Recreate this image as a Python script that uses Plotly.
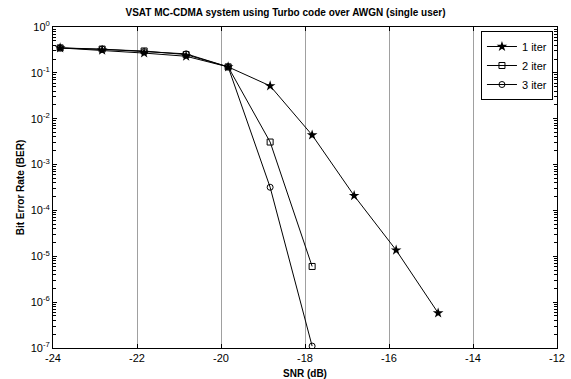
import plotly.graph_objects as go

snr = [-23.83, -22.83, -21.83, -20.83, -19.83, -18.83, -17.83, -16.83, -15.83, -14.83]
ber_1iter = [0.35, 0.31, 0.27, 0.23, 0.135, 0.052, 4.4e-3, 2.1e-4, 1.36e-5, 5.8e-7]
snr_23 = [-23.83, -22.83, -21.83, -20.83, -19.83, -18.83, -17.83]
ber_2iter = [0.35, 0.33, 0.30, 0.25, 0.135, 3.1e-3, 6.0e-6]
ber_3iter = [0.35, 0.33, 0.29, 0.26, 0.135, 3.2e-4, 1.1e-7]

x_ticks = [-24, -22, -20, -18, -16, -14, -12]
y_exps = [0, -1, -2, -3, -4, -5, -6, -7]
minor_vals = [k * 10.0 ** e for e in range(-7, 0) for k in range(2, 10)]

fig = go.Figure()
fig.add_trace(go.Scatter(x=snr, y=ber_1iter, mode="lines+markers", name="1 iter",
                         line=dict(color="black", width=1),
                         marker=dict(symbol="star", size=8, color="black")))
fig.add_trace(go.Scatter(x=snr_23, y=ber_2iter, mode="lines+markers", name="2 iter",
                         line=dict(color="black", width=1),
                         marker=dict(symbol="square-open", size=6, color="black", line=dict(width=1))))
fig.add_trace(go.Scatter(x=snr_23, y=ber_3iter, mode="lines+markers", name="3 iter",
                         line=dict(color="black", width=1),
                         marker=dict(symbol="circle-open", size=6, color="black", line=dict(width=1))))

fig.update_layout(
    width=571, height=379,
    margin=dict(l=53, r=14, t=27, b=31),
    paper_bgcolor="white", plot_bgcolor="white",
    font=dict(family="Liberation Sans, Arial", size=11, color="black"),
    title=dict(text="<b>VSAT MC-CDMA system using Turbo code over AWGN (single user)</b>",
               x=0.5, xanchor="center", y=0.975, yanchor="top", font=dict(size=10)),
    legend=dict(x=0.992, y=0.9875, xanchor="right", yanchor="top",
                bordercolor="black", borderwidth=1, bgcolor="white",
                font=dict(size=11), tracegroupgap=0, itemwidth=30),
    showlegend=True,
)
fig.update_xaxes(
    range=[-24, -12], tickvals=x_ticks, ticktext=[str(v) for v in x_ticks],
    showgrid=True, gridcolor="#a0a0a0", gridwidth=1,
    ticks="inside", ticklen=4, tickcolor="black",
    showline=True, linecolor="black", linewidth=1, mirror="ticks",
    zeroline=False, automargin=False,
    title=dict(text="<b>SNR (dB)</b>", font=dict(size=10), standoff=8),
)
fig.update_yaxes(
    type="log", range=[-7, 0],
    tickmode="array",
    tickvals=[10.0 ** e for e in y_exps],
    ticktext=["10<sup>%d</sup>" % e for e in y_exps],
    showgrid=False,
    ticks="inside", ticklen=4, tickcolor="black",
    minor=dict(ticks="inside", ticklen=3, tickmode="array", tickvals=minor_vals,
               tickcolor="black", tickwidth=1, showgrid=False),
    showline=True, linecolor="black", linewidth=1, mirror="ticks",
    zeroline=False,
    title=dict(text="<b>Bit Error Rate (BER)</b>", font=dict(size=10), standoff=4),
)
fig.write_html("out.html")
